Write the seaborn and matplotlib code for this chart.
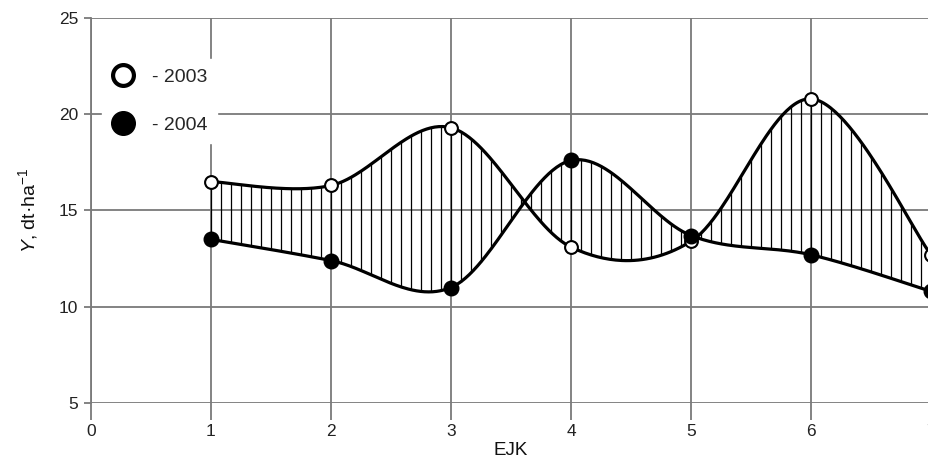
import numpy as np
import pandas as pd
import seaborn as sns
import matplotlib.pyplot as plt
from matplotlib.lines import Line2D

ejk = [1, 2, 3, 4, 5, 6, 7]
yield_2003 = [16.5, 16.3, 19.3, 13.1, 13.4, 20.8, 12.7]
yield_2004 = [13.5, 12.4, 11.0, 17.6, 13.7, 12.7, 10.8]
years = ['2003', '2004']


def smooth(x, y, n=60):
	# Catmull-Rom curve through the points (like a spreadsheet "smoothed line")
	x = np.asarray(x, float)
	y = np.asarray(y, float)
	px = np.concatenate([[x[0]], x, [x[-1]]])
	py = np.concatenate([[y[0]], y, [y[-1]]])
	xs, ys = [], []
	t = np.linspace(0, 1, n)
	h00 = 2 * t**3 - 3 * t**2 + 1
	h10 = t**3 - 2 * t**2 + t
	h01 = -2 * t**3 + 3 * t**2
	h11 = t**3 - t**2
	for i in range(1, len(px) - 2):
		mx0 = (px[i + 1] - px[i - 1]) / 2
		mx1 = (px[i + 2] - px[i]) / 2
		my0 = (py[i + 1] - py[i - 1]) / 2
		my1 = (py[i + 2] - py[i]) / 2
		xs.append(h00 * px[i] + h10 * mx0 + h01 * px[i + 1] + h11 * mx1)
		ys.append(h00 * py[i] + h10 * my0 + h01 * py[i + 1] + h11 * my1)
	return np.concatenate(xs), np.concatenate(ys)


data = pd.DataFrame({
	'EJK': ejk * 2,
	'Y': yield_2003 + yield_2004,
	'year': [years[0]] * len(ejk) + [years[1]] * len(ejk),
})

sns.set_style('white')
plt.rcParams['font.family'] = ['Liberation Sans', 'DejaVu Sans']
plt.rcParams['mathtext.fontset'] = 'custom'
plt.rcParams['mathtext.rm'] = 'Liberation Sans'
plt.rcParams['mathtext.it'] = 'Liberation Sans:italic'

fig = plt.figure(figsize=(9.29, 4.61), dpi=100)
ax = fig.add_axes([91 / 929, 58 / 461, 840 / 929, 385 / 461])

ax.set_xlim(0, 7)
ax.set_ylim(5, 25)
ax.set_xticks(range(0, 8))
ax.set_yticks([5, 10, 15, 20, 25])
ax.grid(True, color='#7a7a7a', linewidth=1.3)
ax.set_axisbelow(True)
for s in ['top', 'right', 'bottom']:
	ax.spines[s].set_visible(False)
ax.spines['left'].set_color('#7a7a7a')
ax.spines['left'].set_linewidth(1.3)
ax.tick_params(axis='x', length=12, width=1.3, color='#7a7a7a', labelsize=12.5,
	pad=3, bottom=True, labelcolor='#222222')
ax.tick_params(axis='y', length=5, width=1.3, color='#7a7a7a', labelsize=12.5,
	pad=4, left=True, labelcolor='#222222')

# hatching between the two curves
sx3, sy3 = smooth(ejk, yield_2003)
sx4, sy4 = smooth(ejk, yield_2004)
hx = np.linspace(ejk[0], ejk[-1], (ejk[-1] - ejk[0]) * 12 + 1)
h3 = np.interp(hx, sx3, sy3)
h4 = np.interp(hx, sx4, sy4)
ax.vlines(hx, np.minimum(h3, h4), np.maximum(h3, h4), color='black', linewidth=0.9, zorder=2)

ax.plot(sx3, sy3, color='black', linewidth=2.3, zorder=3, clip_on=False)
ax.plot(sx4, sy4, color='black', linewidth=2.3, zorder=3, clip_on=False)

sns.scatterplot(data=data[data['year'] == years[0]], x='EJK', y='Y', ax=ax, s=85,
	color='white', edgecolor='black', linewidth=1.5, zorder=4, clip_on=False, legend=False)
sns.scatterplot(data=data[data['year'] == years[1]], x='EJK', y='Y', ax=ax, s=110,
	color='black', edgecolor='black', linewidth=1, zorder=4, clip_on=False, legend=False)

handles = [
	Line2D([], [], marker='o', linestyle='none', markersize=15, markerfacecolor='white',
		markeredgecolor='black', markeredgewidth=3),
	Line2D([], [], marker='o', linestyle='none', markersize=17, markerfacecolor='black',
		markeredgecolor='black'),
]
leg = ax.legend(handles, ['- ' + y for y in years], loc='upper left',
	bbox_to_anchor=(0.001, 0.92), frameon=True, fontsize=14, handletextpad=0.9,
	labelspacing=1.55, borderpad=0.5, handlelength=1.2)
leg.get_frame().set_facecolor('white')
leg.get_frame().set_edgecolor('white')
leg.get_frame().set_alpha(1)
leg.set_zorder(5)

ax.set_xlabel('EJK', fontsize=13.5, labelpad=2, color='#111111')
ax.set_ylabel('$Y$, dt·ha$^{-1}$', fontsize=14, labelpad=14, color='#111111')

fig.savefig('out.png', dpi=100)
